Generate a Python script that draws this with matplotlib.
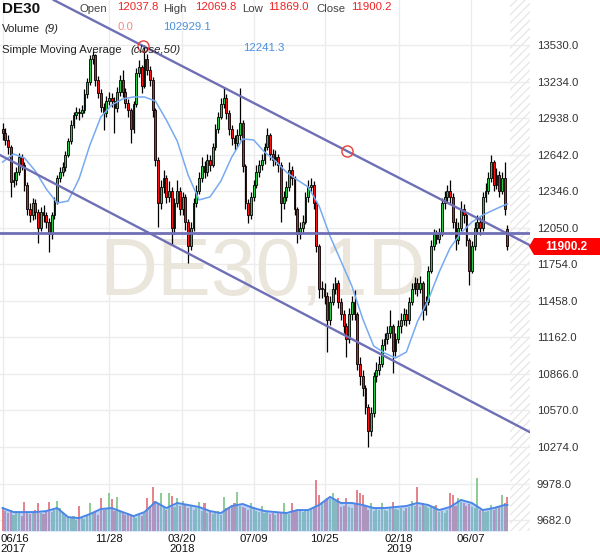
import numpy as np
import matplotlib
matplotlib.use('Agg')
import matplotlib.pyplot as plt
import matplotlib.transforms as mtransforms
from matplotlib.patches import Polygon

plt.rcParams['font.family'] = ['Liberation Sans', 'DejaVu Sans']
plt.rcParams['hatch.color'] = '#e4e4e4'
plt.rcParams['hatch.linewidth'] = 0.8

# ---------------- data (one candle every 3 sessions, from 2017-06-16) ----------------
start_date = '2017-06-16'
session_step = 3

opens = [
    12850, 12820, 12760, 12700, 12420, 12440, 12500, 12620, 12560, 12400,
    12200, 12150, 12250, 12180, 12050, 12180, 12150, 12100, 12000, 12150,
    12260, 12450, 12500, 12540, 12640, 12750, 12880, 12960, 12990, 12980,
    13000, 13130, 13230, 13420, 13450, 13250, 13140, 13030, 12980, 13080,
    13100, 13080, 13020, 13150, 13250, 13150, 13060, 13000, 12850, 13050,
    13300, 13350, 13200, 13420, 13330, 13250, 13000, 12600, 12250, 12380,
    12450, 12300, 12350, 12050, 12250, 12350, 12200, 12300, 12100, 11900,
    12050, 12250, 12350, 12450, 12550, 12500, 12600, 12560, 12700, 12850,
    12950, 13050, 13100, 12980, 12850, 12780, 12740, 12800, 12900, 12550,
    12250, 12150, 12300, 12400, 12500, 12560, 12600, 12700, 12800, 12650,
    12600, 12620, 12560, 12250, 12300, 12380, 12520, 12450, 12200, 12000,
    12050, 12100, 12300, 12380, 12400, 12250, 11900, 11550, 11550, 11500,
    11300, 11450, 11550, 11600, 11450, 11350, 11250, 11150, 11350, 11450,
    11350, 10950, 10850, 10750, 10600, 10400, 10550, 10850, 10900, 10950,
    11100, 11150, 11200, 11250, 11050, 11150, 11250, 11300, 11350, 11300,
    11450, 11550, 11600, 11550, 11600, 11380, 11450, 11700, 11900, 12000,
    11960, 12000, 12250, 12300, 12350, 12300, 12100, 11950, 12050, 12200,
    12150, 11950, 11700, 11900, 12050, 12100, 12050, 12300, 12350, 12450,
    12580, 12400, 12480, 12350, 12450, 12037.8]

highs = [
    12900, 12860, 12800, 12720, 12500, 12540, 12655, 12650, 12580, 12420,
    12250, 12290, 12280, 12200, 12220, 12230, 12180, 12130, 12180, 12300,
    12480, 12540, 12580, 12670, 12780, 12920, 12990, 13030, 13020, 13040,
    13170, 13260, 13450, 13480, 13460, 13280, 13170, 13060, 13120, 13150,
    13140, 13110, 13190, 13290, 13330, 13180, 13090, 13020, 13080, 13340,
    13410, 13370, 13530, 13460, 13360, 13270, 13020, 12620, 12440, 12520,
    12480, 12430, 12380, 12290, 12440, 12380, 12340, 12320, 12120, 12100,
    12290, 12400, 12500, 12620, 12590, 12650, 12640, 12740, 12890, 12990,
    13100, 13190, 13130, 13000, 12880, 12800, 12850, 13180, 12920, 12570,
    12280, 12340, 12440, 12560, 12600, 12650, 12740, 12855, 12820, 12690,
    12680, 12650, 12580, 12350, 12430, 12580, 12550, 12470, 12220, 12100,
    12150, 12340, 12440, 12450, 12430, 12270, 11920, 11620, 11600, 11530,
    11500, 11600, 11650, 11630, 11480, 11380, 11280, 11400, 11500, 11545,
    11370, 11000, 10900, 10780, 10620, 10600, 10880, 10960, 11010, 11150,
    11200, 11250, 11380, 11270, 11200, 11300, 11360, 11400, 11390, 11490,
    11600, 11650, 11640, 11660, 11620, 11500, 11740, 11950, 12040, 12030,
    12050, 12290, 12350, 12400, 12440, 12330, 12130, 12100, 12270, 12240,
    12170, 11970, 11940, 12100, 12150, 12140, 12340, 12410, 12500, 12640,
    12600, 12530, 12510, 12500, 12580, 12069.8]

lows = [
    12760, 12720, 12650, 12300, 12380, 12400, 12480, 12520, 12350, 12150,
    12100, 12110, 12120, 11925, 12020, 12100, 12050, 11850, 11960, 12120,
    12240, 12420, 12470, 12510, 12620, 12730, 12860, 12930, 12920, 12950,
    12980, 13100, 13210, 13380, 13200, 13100, 12990, 12840, 12950, 13040,
    13030, 12815, 12990, 13120, 13110, 13020, 12950, 12740, 12820, 13030,
    13270, 13140, 13180, 13290, 13200, 12950, 12550, 12055, 12200, 12330,
    12250, 12260, 11910, 12000, 12220, 12150, 12150, 12030, 11765, 11870,
    12020, 12220, 12320, 12420, 12450, 12470, 12510, 12540, 12680, 12820,
    12930, 13020, 12930, 12800, 12720, 12680, 12700, 12760, 12500, 12200,
    12090, 12120, 12270, 12370, 12460, 12520, 12570, 12680, 12600, 12550,
    12560, 12500, 12095, 12200, 12270, 12350, 12400, 12150, 11925, 11960,
    12010, 12080, 12260, 12340, 12200, 11850, 11480, 11480, 11430, 11045,
    11260, 11420, 11510, 11400, 11300, 11200, 11003, 11120, 11300, 11300,
    10900, 10780, 10690, 10540, 10274, 10360, 10520, 10800, 10860, 10920,
    11060, 11110, 11160, 10870, 11010, 11120, 11200, 11260, 11250, 11270,
    11420, 11510, 11500, 11520, 11300, 11340, 11420, 11680, 11870, 11920,
    11930, 11980, 12200, 12260, 12250, 12050, 11870, 11920, 12020, 12090,
    11900, 11585, 11680, 11870, 12000, 11990, 12020, 12260, 12320, 12420,
    12350, 12360, 12300, 12320, 12150, 11869.0]

closes = [
    12820, 12760, 12700, 12420, 12440, 12500, 12620, 12560, 12400, 12200,
    12150, 12250, 12180, 12050, 12180, 12150, 12100, 12000, 12150, 12260,
    12450, 12500, 12540, 12640, 12750, 12880, 12960, 12990, 12980, 13000,
    13130, 13230, 13420, 13450, 13250, 13140, 13030, 12980, 13080, 13100,
    13080, 13020, 13150, 13250, 13150, 13060, 13000, 12850, 13050, 13300,
    13350, 13200, 13420, 13330, 13250, 13000, 12600, 12250, 12380, 12450,
    12300, 12350, 12050, 12250, 12350, 12200, 12300, 12100, 11900, 12050,
    12250, 12350, 12450, 12550, 12500, 12600, 12560, 12700, 12850, 12950,
    13050, 13100, 12980, 12850, 12780, 12740, 12800, 12900, 12550, 12250,
    12150, 12300, 12400, 12500, 12560, 12600, 12700, 12800, 12650, 12600,
    12620, 12560, 12250, 12300, 12380, 12520, 12450, 12200, 12000, 12050,
    12100, 12300, 12380, 12400, 12250, 11900, 11550, 11550, 11500, 11300,
    11450, 11550, 11600, 11450, 11350, 11250, 11150, 11350, 11450, 11350,
    10950, 10850, 10750, 10600, 10400, 10550, 10850, 10900, 10950, 11100,
    11150, 11200, 11250, 11050, 11150, 11250, 11300, 11350, 11300, 11450,
    11550, 11600, 11550, 11600, 11380, 11450, 11700, 11900, 12000, 11960,
    12000, 12250, 12300, 12350, 12300, 12100, 11950, 12050, 12200, 12150,
    11950, 11700, 11900, 12050, 12100, 12050, 12300, 12350, 12450, 12580,
    12400, 12480, 12350, 12450, 12200, 11900.2]

# volume in thousands
volumes = [
    95, 80, 70, 85, 65, 78, 72, 60, 115, 70,
    68, 75, 82, 111, 70, 66, 80, 115, 75, 85,
    120, 90, 70, 60, 55, 50, 58, 45, 100, 52,
    48, 60, 110, 70, 80, 65, 131, 85, 90, 150,
    125, 80, 135, 75, 70, 65, 72, 60, 55, 50,
    62, 58, 70, 131, 100, 174, 120, 110, 150, 100,
    85, 150, 140, 95, 131, 100, 120, 105, 90, 98,
    85, 90, 115, 80, 111, 70, 75, 68, 72, 80,
    65, 135, 90, 95, 100, 110, 154, 100, 95, 90,
    85, 111, 95, 80, 75, 100, 70, 75, 68, 72,
    65, 70, 75, 111, 70, 68, 111, 80, 85, 78,
    75, 80, 85, 90, 95, 202, 143, 110, 120, 131,
    125, 150, 120, 130, 95, 100, 131, 95, 90, 105,
    162, 150, 143, 100, 85, 111, 80, 88, 82, 111,
    85, 80, 90, 115, 88, 84, 92, 80, 90, 95,
    120, 100, 174, 95, 110, 100, 90, 95, 98, 103,
    75, 80, 70, 85, 150, 143, 100, 131, 115, 110,
    100, 105, 95, 90, 210, 85, 80, 75, 80, 103,
    85, 90, 95, 143, 110, 135]

# SMA(close,50), read every 4th candle, plus the last session
sma50 = [
    12582, 12647, 12615, 12509, 12364, 12250, 12266, 12445, 12720, 12947,
    13044, 13093, 13109, 13109, 13076, 12923, 12752, 12477, 12275, 12299,
    12428, 12623, 12769, 12761, 12663, 12590, 12501, 12437, 12380, 12226,
    11983, 11780, 11578, 11311, 11092, 11035, 10995, 11043, 11287, 11465,
    11691, 11886, 12007, 12096, 12153, 12194, 12234, 12241.3]

# Volume MA(9) in thousands, read every 4th candle, plus the last session
vol_ma9 = [
    91, 75, 75, 75, 79, 91, 55, 51, 67, 87,
    91, 75, 59, 75, 115, 91, 111, 103, 95, 79,
    71, 99, 107, 91, 79, 75, 71, 83, 83, 103,
    135, 111, 111, 103, 91, 91, 95, 99, 111, 103,
    83, 95, 123, 111, 83, 91, 103, 102.9291]

tick_dates = ['2017-06-16', '2017-11-28', '2018-03-20', '2018-07-09',
              '2018-10-25', '2019-02-18', '2019-06-07']
tick_labels = ['06/16\n2017', '11/28', '03/20\n2018', '07/09',
               '10/25', '02/18\n2019', '06/07']
price_ticks = [13530, 13234, 12938, 12642, 12346, 12050, 11754,
               11458, 11162, 10866, 10570, 10274, 9978, 9682]

# drawings: (session index, price)
upper_channel = [(154.4, 13522), (378.7, 12671)]
lower_channel = [(-2.9, 12639), (568.9, 10436)]
level_line = 12007

header_values = {'Open': '12037.8', 'High': '12069.8', 'Low': '11869.0', 'Close': '11900.2'}
vol_header = ('0.0', '102929.1')
sma_header = '12241.3'
last_price = '11900.2'

# ---------------- figure ----------------
W, H = 600, 558
fig = plt.figure(figsize=(W / 100, H / 100), dpi=100)
rect = [0, (H - 531) / H, 530 / W, 531 / H]
ax = fig.add_axes(rect)
axv = fig.add_axes(rect)
axv.patch.set_visible(False)
ax.set_zorder(1)
axv.set_zorder(2)

n = len(closes)
x = np.arange(n) * session_step
o = np.array(opens); h = np.array(highs); l = np.array(lows); c = np.array(closes)

xmin, xmax = -2.86, 579.9
ax.set_xlim(xmin, xmax)
axv.set_xlim(xmin, xmax)
ax.set_ylim(9593.4, 13894.5)
axv.set_ylim(0, 2103)

for a in (ax, axv):
    for s in a.spines.values():
        s.set_visible(False)
axv.set_xticks([]); axv.set_yticks([])

# grid
tick_idx = [int(np.busday_count(start_date, d)) for d in tick_dates]
ax.set_xticks(tick_idx)
ax.set_xticklabels([])
ax.tick_params(axis='x', length=0)
ax.yaxis.tick_right()
ax.set_yticks(price_ticks)
ax.set_yticklabels([f'{v:.1f}' for v in price_ticks], fontsize=8.2, color='#333333')
ax.tick_params(axis='y', length=0, pad=5)
ax.grid(True, color='#ececec', lw=1.0, zorder=0)
ax.set_axisbelow(True)

# future hatched area
ax.axvspan(x[-1] + 2.5, xmax, facecolor='white', edgecolor='#e4e4e4', hatch='////', lw=0, zorder=0.5)

# watermark (drawn inside the price axes so it sits above its background)
ax.text(263 / W, 1 - 296 / H, 'DE30,1D', transform=fig.transFigure, ha='center', va='baseline',
        fontsize=58, family='Liberation Sans', color='#ebe6dc', zorder=0.7)

# volume: bars, then translucent MA area on top
sidx = [i * session_step for i in range(0, n, 4)] + [int(x[-1])]
vcol = np.where(c >= o, '#7cc486', '#e0707a')
axv.bar(x, volumes, width=2.3, color=vcol, alpha=0.85, lw=0, zorder=1)
axv.fill_between(sidx, 0, vol_ma9, color='#7aa6ee', alpha=0.5, lw=0, zorder=2)
axv.plot(sidx, vol_ma9, color='#4a86e8', lw=1.4, zorder=3)

# candles
up = c >= o
bcol = np.where(up, '#22cc44', '#ff1010')
body_lo = np.minimum(o, c)
body_h = np.maximum(np.abs(c - o), 10)
ax.vlines(x, l, h, color='black', lw=0.9, zorder=3)
ax.bar(x, body_h, bottom=body_lo, width=2.0, color=bcol, edgecolor='black', linewidth=0.6, zorder=4)

# SMA
ax.plot(sidx, sma50, color='#76aaf2', lw=1.1, zorder=5)

# channel & level lines
lc = '#6f6fb6'
ax.axline(upper_channel[0], upper_channel[1], color=lc, lw=1.7, zorder=6)
ax.axline(lower_channel[0], lower_channel[1], color=lc, lw=1.7, zorder=6)
ax.axhline(level_line, color=lc, lw=2.0, zorder=6)
for px, py in upper_channel:
    ax.plot([px], [py], 'o', mfc='none', mec='#e8403a', ms=8, mew=1.0, zorder=7)

# x labels
trans = mtransforms.blended_transform_factory(ax.transData, fig.transFigure)
for i, (ti, lab) in enumerate(zip(tick_idx, tick_labels)):
    parts = lab.split('\n')
    ha = 'left' if i == 0 else 'center'
    xx = xmin + 0.5 if i == 0 else ti
    ax.text(xx, 1 - 539 / H, parts[0], transform=trans, ha=ha, va='center', fontsize=8.2, color='#111111')
    if len(parts) > 1:
        ax.text(xx, 1 - 549.5 / H, parts[1], transform=trans, ha=ha, va='center', fontsize=8.2, color='#111111')

# header
def T(px, py, s, **kw):
    fig.text(px / W, 1 - py / H, s, va='center', **kw)

fs = 8.2
T(2, 9, 'DE30', fontsize=11, fontweight='bold', color='#111111')
T(80, 8.5, 'Open', fontsize=fs, color='#444444')
T(117, 6.5, header_values['Open'], fontsize=fs, color='#ee2222')
T(163, 8.5, 'High', fontsize=fs, color='#444444')
T(195, 6.5, header_values['High'], fontsize=fs, color='#ee2222')
T(242, 8.5, 'Low', fontsize=fs, color='#444444')
T(268, 6.5, header_values['Low'], fontsize=fs, color='#ee2222')
T(316, 8.5, 'Close', fontsize=fs, color='#444444')
T(351, 6.5, header_values['Close'], fontsize=fs, color='#ee2222')
T(2, 29, 'Volume', fontsize=fs, color='#222222')
T(44, 29, '(9)', fontsize=fs, color='#222222', style='italic')
T(118, 27, vol_header[0], fontsize=fs, color='#f28b82')
T(163, 27, vol_header[1], fontsize=fs, color='#4a8fdc')
T(2, 50, 'Simple Moving Average', fontsize=fs, color='#222222')
T(130, 50, '(close,50)', fontsize=fs, color='#222222', style='italic')
T(243, 48, sma_header, fontsize=fs, color='#4a8fdc')

# last price label
pts = [(529, 246.5), (534, 238), (600, 238), (600, 255), (534, 255)]
poly = Polygon([(px / W, 1 - py / H) for px, py in pts], closed=True,
               transform=fig.transFigure, facecolor='#ff0000', edgecolor='none', zorder=10)
fig.add_artist(poly)
fig.text(566 / W, 1 - 246.5 / H, last_price, ha='center', va='center', fontsize=8.5,
         fontweight='bold', color='white', zorder=11)

fig.savefig('out.png', dpi=100)
